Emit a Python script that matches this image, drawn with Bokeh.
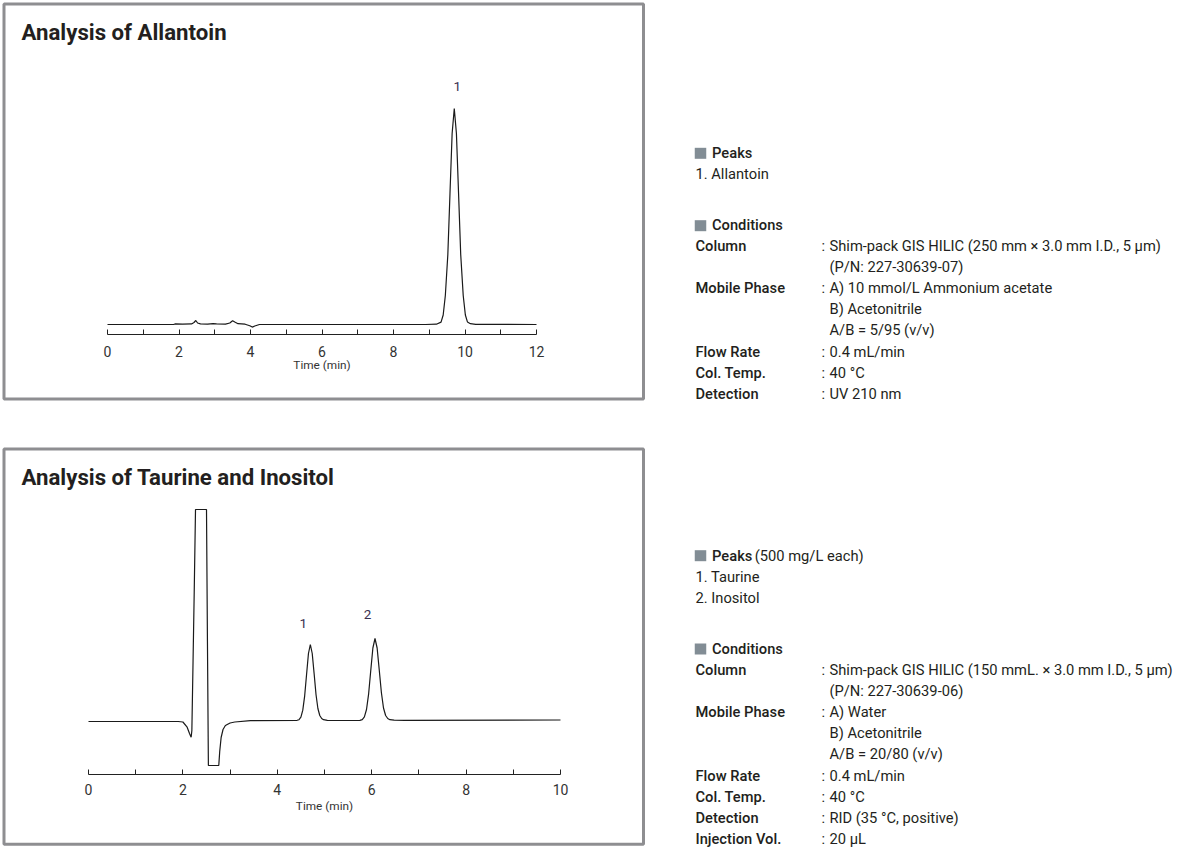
from bokeh.plotting import figure
from bokeh.models import Range1d, LinearAxis, FixedTicker
from bokeh.core.properties import value
from bokeh.embed import file_html
from bokeh.resources import INLINE

# ---------------- data ----------------
# Chart 1: Analysis of Allantoin (time in min, signal in arbitrary units)
allantoin_time = [0.0, 1.85, 1.90, 2.10, 2.35, 2.42, 2.47, 2.52, 2.60, 2.80, 2.95, 3.05,
                  3.30, 3.42, 3.50, 3.56, 3.65, 3.85, 3.98, 4.05, 4.12, 4.25, 8.90, 9.20,
                  9.33, 9.39, 9.45, 9.52, 9.58, 9.64, 9.70, 9.76, 9.82, 9.88, 9.95, 10.01,
                  10.07, 10.15, 10.30, 12.0]
allantoin_signal = [0.0, 0.0, 0.6, 0.4, 0.6, 2.0, 4.0, 1.5, 0.6, 0.4, 0.9, 0.6,
                    0.3, 1.5, 3.8, 2.5, 0.8, 0.3, -1.2, -2.6, -1.5, 0.0, 0.0, 0.3,
                    2.4, 9.5, 29.0, 70.0, 131.0, 191.0, 216.0, 191.0, 131.0, 70.0, 29.0, 9.5,
                    2.4, 0.8, 0.2, 0.0]
allantoin_peak_labels = ["1"]
allantoin_peak_times = [9.70]
allantoin_peak_heights = [216.0]
allantoin_ticks = [0, 2, 4, 6, 8, 10, 12]
allantoin_minor_ticks = [1, 3, 5, 7, 9, 11]

# Chart 2: Analysis of Taurine and Inositol
taurine_time = [0.0, 1.90, 2.00, 2.09, 2.14, 2.175, 2.19, 2.215, 2.24, 2.267, 2.50, 2.52,
                2.54, 2.76, 2.78, 2.81, 2.85, 2.90, 3.00, 3.10, 3.43, 4.42, 4.46, 4.50,
                4.54, 4.58, 4.62, 4.66, 4.70, 4.74, 4.78, 4.82, 4.86, 4.90, 4.94, 4.98,
                5.06, 5.30, 5.75, 5.80, 5.845, 5.89, 5.935, 5.98, 6.025, 6.07, 6.115, 6.16,
                6.205, 6.25, 6.295, 6.34, 6.385, 6.475, 6.70, 10.0]
taurine_signal = [0.0, 0.0, -0.5, -5.7, -12.0, -15.7, -9.0, 60.0, 130.0, 212.0, 212.0, 80.0,
                  -44.0, -44.0, -30.0, -16.0, -8.0, -4.0, -1.5, -0.5, 0.8, 1.2, 1.8, 4.3,
                  11.3, 25.7, 47.0, 68.0, 77.0, 68.0, 48.0, 27.0, 13.0, 6.0, 3.0, 1.8,
                  1.2, 1.0, 1.2, 1.9, 4.6, 12.0, 27.7, 51.0, 73.5, 83.0, 73.5, 51.5,
                  29.0, 13.5, 6.0, 3.0, 1.8, 1.3, 1.2, 1.5]
taurine_peak_labels = ["1", "2"]
taurine_peak_times = [4.70, 6.07]
taurine_peak_heights = [77.0, 83.0]
taurine_ticks = [0, 2, 4, 6, 8, 10]
taurine_minor_ticks = [1, 3, 5, 7, 9]

titles = ["Analysis of Allantoin", "Analysis of Taurine and Inositol"]

# Right-hand information blocks
info1_headers = ["Peaks", "Conditions"]
info1_peaks = ["1. Allantoin"]
info1_labels = ["Column", "", "Mobile Phase", "", "", "Flow Rate", "Col. Temp.", "Detection"]
info1_values = ["Shim-pack GIS HILIC (250 mm × 3.0 mm I.D., 5 µm)", "(P/N: 227-30639-07)",
                "A) 10 mmol/L Ammonium acetate", "B) Acetonitrile", "A/B = 5/95 (v/v)",
                "0.4 mL/min", "40 °C", "UV 210 nm"]

info2_headers = ["Peaks", "Conditions"]
info2_peaks_note = "(500 mg/L each)"
info2_peaks = ["1. Taurine", "2. Inositol"]
info2_labels = ["Column", "", "Mobile Phase", "", "", "Flow Rate", "Col. Temp.", "Detection",
                "Injection Vol."]
info2_values = ["Shim-pack GIS HILIC (150 mmL. × 3.0 mm I.D., 5 µm)", "(P/N: 227-30639-06)",
                "A) Water", "B) Acetonitrile", "A/B = 20/80 (v/v)", "0.4 mL/min", "40 °C",
                "RID (35 °C, positive)", "20 µL"]

# ---------------- layout (page pixels) ----------------
X0, Y0, W, H = -6, -6, 1180, 853
FONT = "Roboto"
LABEL_FONT = "Roboto Medium"
TXT = "#231f20"
FRAME = "#8e8e91"

p = figure(width=W, height=H, output_backend="svg", toolbar_location=None,
           x_range=Range1d(X0, X0 + W), y_range=Range1d(Y0 + H, Y0),
           x_axis_location=None, y_axis_location=None, min_border=0,
           margin=(-6, 0, 0, -6))
p.grid.visible = False
p.outline_line_color = None
p.background_fill_color = "white"
p.border_fill_color = "white"

# chart geometry: (x pixel of t=0, px per min, baseline pixel, px per unit, axis pixel)
charts = [
    dict(name="c1", x0=107.0, kx=(536.0 - 107.0) / 12.0, base=324.0, ky=1.0, axis=334.0,
         t=allantoin_time, s=allantoin_signal, ticks=allantoin_ticks,
         minor=allantoin_minor_ticks, bounds=(0, 12),
         lab=allantoin_peak_labels, lt=allantoin_peak_times, lh=allantoin_peak_heights,
         loff=[(3, -22)], stand=(11, -2)),
    dict(name="c2", x0=88.0, kx=(560.0 - 88.0) / 10.0, base=721.0, ky=1.0, axis=774.0,
         t=taurine_time, s=taurine_signal, ticks=taurine_ticks,
         minor=taurine_minor_ticks, bounds=(0, 10),
         lab=taurine_peak_labels, lt=taurine_peak_times, lh=taurine_peak_heights,
         loff=[(-7, -21), (-7.5, -24)], stand=(9, 1)),
]

# panel frames
panel_tops = [3.5, 448.5]
panel_bottoms = [398.5, 843.7]
p.rect(x=[(3.5 + 643.0) / 2] * 2,
       y=[(t + b) / 2 for t, b in zip(panel_tops, panel_bottoms)],
       width=643.0 - 3.5, height=[b - t for t, b in zip(panel_tops, panel_bottoms)],
       fill_color=None, line_color=FRAME, line_width=3)

# titles (y = visual centre of the text)
p.text(x=[21, 21], y=[31, 476.5], text=titles, text_font=value(FONT),
       text_font_style="bold", text_font_size="22.2px", text_color=TXT,
       text_baseline="alphabetic", text_align="left")

for c in charts:
    xr = c["name"] + "x"
    yr = c["name"] + "y"
    p.extra_x_ranges[xr] = Range1d((X0 - c["x0"]) / c["kx"], (X0 + W - c["x0"]) / c["kx"])
    p.extra_y_ranges[yr] = Range1d((c["base"] - (Y0 + H)) / c["ky"], (c["base"] - Y0) / c["ky"])
    p.line(c["t"], c["s"], x_range_name=xr, y_range_name=yr, line_color="#1a1a1a",
           line_width=1.2)
    for lab, lt, lh, off in zip(c["lab"], c["lt"], c["lh"], c["loff"]):
        p.text(x=[lt], y=[lh], text=[lab], x_range_name=xr, y_range_name=yr,
               x_offset=off[0], y_offset=off[1], text_font=value(FONT),
               text_font_size="13.5px", text_color="#3a3050", text_align="center",
               text_baseline="alphabetic")
    ax = LinearAxis(x_range_name=xr, fixed_location=c["axis"], bounds=c["bounds"],
                    ticker=FixedTicker(ticks=c["ticks"], minor_ticks=c["minor"]),
                    axis_label="Time (min)")
    ax.axis_line_color = "#222222"
    ax.axis_line_width = 1.2
    ax.major_tick_in = 5
    ax.major_tick_out = 0
    ax.minor_tick_in = 5
    ax.minor_tick_out = 0
    ax.major_tick_line_color = "#222222"
    ax.minor_tick_line_color = "#222222"
    ax.major_label_standoff = c["stand"][0]
    ax.major_label_text_font = FONT
    ax.major_label_text_font_size = "14px"
    ax.major_label_text_color = "#333333"
    ax.axis_label_text_font = FONT
    ax.axis_label_text_font_size = "11.8px"
    ax.axis_label_text_font_style = "normal"
    ax.axis_label_text_color = "#333333"
    ax.axis_label_standoff = c["stand"][1]
    p.add_layout(ax, "below")

# right-hand info blocks
SQ = "#828d95"
p.rect(x=[700.0] * 4, y=[152.8, 225.2, 555.2, 648.5], width=11.5, height=11,
       fill_color=SQ, line_color=None)

FS = "14.7px"


def block(headers, header_ys, peaks, peak_ys, labels, values, row_ys):
    p.text(x=[711.5] * len(headers), y=header_ys, text=headers, text_font=value(LABEL_FONT),
           text_font_size=FS, text_color=TXT, text_baseline="alphabetic")
    p.text(x=[695] * len(peaks), y=peak_ys, text=peaks, text_font=value(FONT),
           text_font_size=FS, text_color=TXT, text_baseline="alphabetic")
    lab_ys = [y for l, y in zip(labels, row_ys) if l]
    p.text(x=[695] * len(lab_ys), y=lab_ys, text=[l for l in labels if l],
           text_font=value(LABEL_FONT), text_font_size=FS, text_color=TXT,
           text_baseline="alphabetic")
    p.text(x=[821] * len(lab_ys), y=lab_ys, text=[":"] * len(lab_ys), text_font=value(FONT),
           text_font_size=FS, text_color=TXT, text_baseline="alphabetic")
    p.text(x=[829] * len(values), y=row_ys, text=values, text_font=value(FONT),
           text_font_size=FS, text_color=TXT, text_baseline="alphabetic")


# y = visual centre of each text line
block(info1_headers, [152, 224], info1_peaks, [173], info1_labels, info1_values,
      [245, 266, 287, 308, 329, 351, 372, 393])
block(info2_headers, [555, 648], info2_peaks, [576, 597], info2_labels, info2_values,
      [669, 690, 711, 732, 753, 775, 796, 817, 838])
p.text(x=[754.3], y=[555], text=[info2_peaks_note], text_font=value(FONT),
       text_font_size=FS, text_color=TXT, text_baseline="alphabetic")

open("out.html", "w").write(file_html(p, INLINE))
